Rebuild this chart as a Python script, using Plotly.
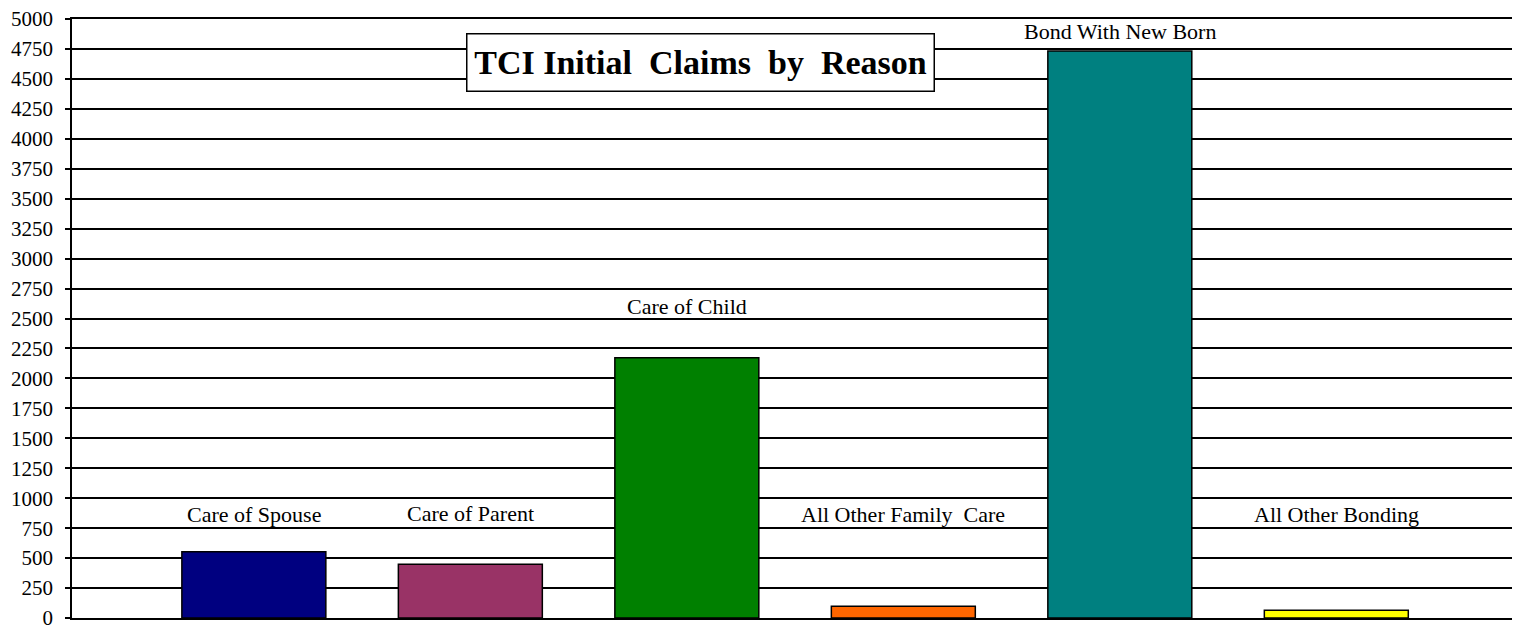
import plotly.graph_objects as go

categories = ["Care of Spouse", "Care of Parent", "Care of Child",
              "All Other Family  Care", "Bond With New Born", "All Other Bonding"]
claims = [552, 448, 2173, 98, 4732, 65]
bar_colors = ["#000080", "#993366", "#008000", "#FF6600", "#008080", "#FFFF00"]
tick_vals = list(range(0, 5001, 250))
title_text = "TCI Initial  Claims  by  Reason"

# label placement (layout only, in axis units)
label_y = [862, 870, 2604, 862, 4896, 865]

FONT = "Liberation Serif, Times New Roman, serif"

fig = go.Figure()
fig.add_trace(go.Bar(
    x=categories, y=claims,
    marker=dict(color=bar_colors, line=dict(color="black", width=1.5)),
    width=0.665, showlegend=False, hoverinfo="x+y",
))

for i, (c, ly) in enumerate(zip(categories, label_y)):
    fig.add_annotation(x=i, y=ly, xref="x", yref="y", text=c, showarrow=False,
                       yanchor="middle", xanchor="center",
                       font=dict(family=FONT, size=22, color="black"))

fig.add_annotation(x=0.435, y=0.928, xref="paper", yref="paper", text="<b>" + title_text + "</b>",
                   showarrow=False, xanchor="center", yanchor="middle",
                   width=458, height=48, align="center", valign="middle",
                   font=dict(family=FONT, size=34, color="black"),
                   bordercolor="black", borderwidth=1.5, borderpad=4, bgcolor="white")

# the page body has an 8px margin, so the figure is sized to fit the window
fig.update_layout(
    width=1512, height=620,
    margin=dict(l=64, r=4, t=10.5, b=9.5, autoexpand=False),
    paper_bgcolor="white", plot_bgcolor="white",
    font=dict(family=FONT, size=21, color="black"),
    xaxis=dict(type="category", range=[-0.84, 5.83], showticklabels=False,
               showgrid=False, showline=True, linecolor="black", linewidth=1.5,
               mirror=True, ticks="", zeroline=False, automargin=False),
    yaxis=dict(range=[0, 5000], tickmode="array", tickvals=tick_vals,
               ticktext=[str(v) for v in tick_vals],
               showgrid=True, gridcolor="black", gridwidth=1.5,
               showline=True, linecolor="black", linewidth=1.5, mirror=True,
               ticks="outside", ticklen=5, tickcolor="black", tickwidth=1.5,
               ticklabelstandoff=8, ticklabeloverflow="allow",
               zeroline=False, automargin=False,
               tickfont=dict(family=FONT, size=21, color="black")),
    bargap=0.335,
)

fig.write_html("out.html")
